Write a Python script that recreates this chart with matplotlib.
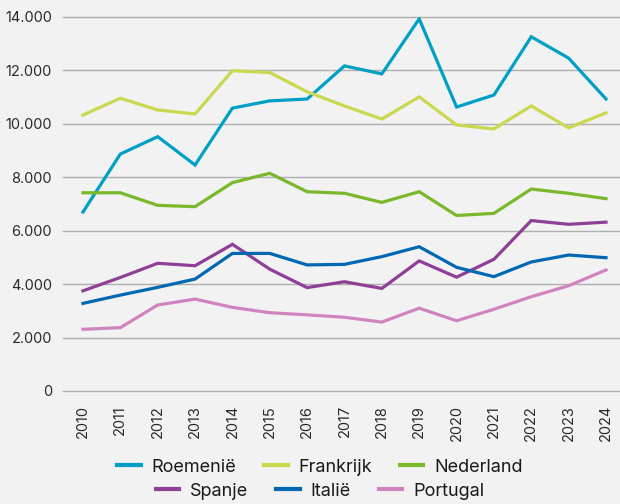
import matplotlib.pyplot as plt
from matplotlib.lines import Line2D

plt.rcParams['font.family'] = ['Inter', 'DejaVu Sans']

years = list(range(2010, 2025))

roemenie = [6700, 8870, 9520, 8460, 10590, 10860, 10930, 12170, 11870, 13930,
            10630, 11080, 13260, 12460, 10930]
frankrijk = [10330, 10960, 10520, 10370, 11990, 11920, 11200, 10670, 10180, 11010,
             9960, 9810, 10670, 9850, 10410]
nederland = [7420, 7420, 6950, 6900, 7800, 8150, 7460, 7400, 7060, 7460,
             6570, 6650, 7560, 7400, 7200]
spanje = [3750, 4250, 4780, 4690, 5490, 4560, 3870, 4090, 3840, 4870,
          4260, 4930, 6380, 6240, 6320]
italie = [3280, 3590, 3880, 4190, 5150, 5150, 4720, 4740, 5030, 5400,
          4630, 4280, 4830, 5090, 4990]
portugal = [2310, 2370, 3220, 3440, 3130, 2930, 2850, 2760, 2580, 3100,
            2630, 3060, 3530, 3940, 4530]

series = [
    ('Roemenië', roemenie, '#00A0C6'),
    ('Frankrijk', frankrijk, '#C9D84E'),
    ('Nederland', nederland, '#78B82A'),
    ('Spanje', spanje, '#8E3F96'),
    ('Italië', italie, '#0068B3'),
    ('Portugal', portugal, '#D084BF'),
]

bg = '#F2F2F2'
fig = plt.figure(figsize=(6.2, 5.04), dpi=100, facecolor=bg)
ax = fig.add_axes([63 / 620, 1 - 391 / 504, 557 / 620, 374 / 504])
ax.set_facecolor(bg)

for name, vals, col in series:
    ax.plot(years, vals, color=col, lw=2.3, label=name, solid_joinstyle='miter')

ax.set_xlim(2009.465, 2024.375)
ax.set_ylim(0, 14000)
ax.set_yticks(range(0, 14001, 2000))
ax.set_yticklabels(['0' if v == 0 else f'{v // 1000}.000' for v in range(0, 14001, 2000)])
ax.set_xticks(years)
ax.set_xticklabels([str(y) for y in years], rotation=90)
ax.tick_params(length=0, labelsize=10.5, colors='#2a2a2a', pad=8)
ax.tick_params(axis='x', pad=10)
ax.grid(axis='y', color='#AFAFAF', lw=1)
for gl in ax.get_ygridlines():
    gl.set_clip_on(False)
ax.set_axisbelow(True)
for s in ax.spines.values():
    s.set_visible(False)

handles = [Line2D([], [], color=c, lw=3) for _, _, c in series]
names = [n for n, _, _ in series]
leg_kw = dict(loc='center', ncol=3, frameon=False, fontsize=13,
              handlelength=1.3, columnspacing=1.55, handletextpad=0.6,
              borderpad=0)
leg1 = fig.legend(handles[:3], names[:3], bbox_to_anchor=(0.516, 1 - 467 / 504), **leg_kw)
leg2 = fig.legend(handles[3:], names[3:], bbox_to_anchor=(0.516, 1 - 491 / 504), **leg_kw)
for leg in (leg1, leg2):
    for t in leg.get_texts():
        t.set_color('#1a1a1a')

fig.savefig('out.png', dpi=100, facecolor=bg)
